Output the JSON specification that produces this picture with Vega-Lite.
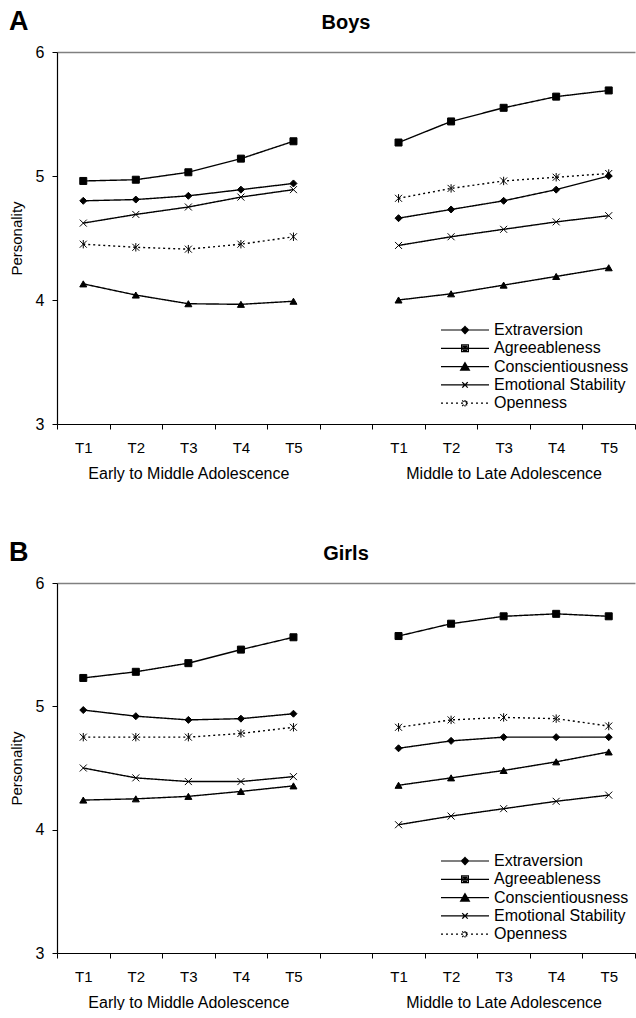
{
  "$schema": "https://vega.github.io/schema/vega-lite/v6.json",
  "background": "white",
  "padding": {"left": 9, "top": 8, "right": 0, "bottom": 0},
  "config": {
    "font": "Liberation Sans",
    "view": {"stroke": null},
    "axis": {"domainColor": "black", "tickColor": "black", "labelColor": "black", "titleColor": "black", "grid": false, "domainWidth": 1.2},
    "legend": {"title": null, "orient": "none", "legendX": 400, "legendY": 270, "padding": 0, "symbolStrokeColor": "black", "symbolStrokeWidth": 1.2, "labelFontSize": 16, "labelOffset": 21, "rowPadding": 2.3, "labelColor": "black", "symbolSize": 64}
  },
  "datasets": {
    "d": [
      {"panel":"Boys","cohort":"Early","trait":"Extraversion","slot":1,"value":4.80},
      {"panel":"Boys","cohort":"Early","trait":"Extraversion","slot":2,"value":4.81},
      {"panel":"Boys","cohort":"Early","trait":"Extraversion","slot":3,"value":4.84},
      {"panel":"Boys","cohort":"Early","trait":"Extraversion","slot":4,"value":4.89},
      {"panel":"Boys","cohort":"Early","trait":"Extraversion","slot":5,"value":4.94},
      {"panel":"Boys","cohort":"Early","trait":"Agreeableness","slot":1,"value":4.96},
      {"panel":"Boys","cohort":"Early","trait":"Agreeableness","slot":2,"value":4.97},
      {"panel":"Boys","cohort":"Early","trait":"Agreeableness","slot":3,"value":5.03},
      {"panel":"Boys","cohort":"Early","trait":"Agreeableness","slot":4,"value":5.14},
      {"panel":"Boys","cohort":"Early","trait":"Agreeableness","slot":5,"value":5.28},
      {"panel":"Boys","cohort":"Early","trait":"Conscientiousness","slot":1,"value":4.13},
      {"panel":"Boys","cohort":"Early","trait":"Conscientiousness","slot":2,"value":4.04},
      {"panel":"Boys","cohort":"Early","trait":"Conscientiousness","slot":3,"value":3.97},
      {"panel":"Boys","cohort":"Early","trait":"Conscientiousness","slot":4,"value":3.965},
      {"panel":"Boys","cohort":"Early","trait":"Conscientiousness","slot":5,"value":3.99},
      {"panel":"Boys","cohort":"Early","trait":"Emotional Stability","slot":1,"value":4.62},
      {"panel":"Boys","cohort":"Early","trait":"Emotional Stability","slot":2,"value":4.69},
      {"panel":"Boys","cohort":"Early","trait":"Emotional Stability","slot":3,"value":4.75},
      {"panel":"Boys","cohort":"Early","trait":"Emotional Stability","slot":4,"value":4.83},
      {"panel":"Boys","cohort":"Early","trait":"Emotional Stability","slot":5,"value":4.89},
      {"panel":"Boys","cohort":"Early","trait":"Openness","slot":1,"value":4.45},
      {"panel":"Boys","cohort":"Early","trait":"Openness","slot":2,"value":4.425},
      {"panel":"Boys","cohort":"Early","trait":"Openness","slot":3,"value":4.41},
      {"panel":"Boys","cohort":"Early","trait":"Openness","slot":4,"value":4.45},
      {"panel":"Boys","cohort":"Early","trait":"Openness","slot":5,"value":4.51},
      {"panel":"Boys","cohort":"Late","trait":"Extraversion","slot":7,"value":4.66},
      {"panel":"Boys","cohort":"Late","trait":"Extraversion","slot":8,"value":4.73},
      {"panel":"Boys","cohort":"Late","trait":"Extraversion","slot":9,"value":4.80},
      {"panel":"Boys","cohort":"Late","trait":"Extraversion","slot":10,"value":4.89},
      {"panel":"Boys","cohort":"Late","trait":"Extraversion","slot":11,"value":5.00},
      {"panel":"Boys","cohort":"Late","trait":"Agreeableness","slot":7,"value":5.27},
      {"panel":"Boys","cohort":"Late","trait":"Agreeableness","slot":8,"value":5.44},
      {"panel":"Boys","cohort":"Late","trait":"Agreeableness","slot":9,"value":5.55},
      {"panel":"Boys","cohort":"Late","trait":"Agreeableness","slot":10,"value":5.64},
      {"panel":"Boys","cohort":"Late","trait":"Agreeableness","slot":11,"value":5.69},
      {"panel":"Boys","cohort":"Late","trait":"Conscientiousness","slot":7,"value":4.00},
      {"panel":"Boys","cohort":"Late","trait":"Conscientiousness","slot":8,"value":4.05},
      {"panel":"Boys","cohort":"Late","trait":"Conscientiousness","slot":9,"value":4.12},
      {"panel":"Boys","cohort":"Late","trait":"Conscientiousness","slot":10,"value":4.19},
      {"panel":"Boys","cohort":"Late","trait":"Conscientiousness","slot":11,"value":4.26},
      {"panel":"Boys","cohort":"Late","trait":"Emotional Stability","slot":7,"value":4.44},
      {"panel":"Boys","cohort":"Late","trait":"Emotional Stability","slot":8,"value":4.51},
      {"panel":"Boys","cohort":"Late","trait":"Emotional Stability","slot":9,"value":4.57},
      {"panel":"Boys","cohort":"Late","trait":"Emotional Stability","slot":10,"value":4.63},
      {"panel":"Boys","cohort":"Late","trait":"Emotional Stability","slot":11,"value":4.68},
      {"panel":"Boys","cohort":"Late","trait":"Openness","slot":7,"value":4.82},
      {"panel":"Boys","cohort":"Late","trait":"Openness","slot":8,"value":4.90},
      {"panel":"Boys","cohort":"Late","trait":"Openness","slot":9,"value":4.96},
      {"panel":"Boys","cohort":"Late","trait":"Openness","slot":10,"value":4.99},
      {"panel":"Boys","cohort":"Late","trait":"Openness","slot":11,"value":5.02},
      {"panel":"Girls","cohort":"Early","trait":"Extraversion","slot":1,"value":4.97},
      {"panel":"Girls","cohort":"Early","trait":"Extraversion","slot":2,"value":4.92},
      {"panel":"Girls","cohort":"Early","trait":"Extraversion","slot":3,"value":4.89},
      {"panel":"Girls","cohort":"Early","trait":"Extraversion","slot":4,"value":4.90},
      {"panel":"Girls","cohort":"Early","trait":"Extraversion","slot":5,"value":4.94},
      {"panel":"Girls","cohort":"Early","trait":"Agreeableness","slot":1,"value":5.23},
      {"panel":"Girls","cohort":"Early","trait":"Agreeableness","slot":2,"value":5.28},
      {"panel":"Girls","cohort":"Early","trait":"Agreeableness","slot":3,"value":5.35},
      {"panel":"Girls","cohort":"Early","trait":"Agreeableness","slot":4,"value":5.46},
      {"panel":"Girls","cohort":"Early","trait":"Agreeableness","slot":5,"value":5.56},
      {"panel":"Girls","cohort":"Early","trait":"Conscientiousness","slot":1,"value":4.24},
      {"panel":"Girls","cohort":"Early","trait":"Conscientiousness","slot":2,"value":4.25},
      {"panel":"Girls","cohort":"Early","trait":"Conscientiousness","slot":3,"value":4.27},
      {"panel":"Girls","cohort":"Early","trait":"Conscientiousness","slot":4,"value":4.31},
      {"panel":"Girls","cohort":"Early","trait":"Conscientiousness","slot":5,"value":4.355},
      {"panel":"Girls","cohort":"Early","trait":"Emotional Stability","slot":1,"value":4.50},
      {"panel":"Girls","cohort":"Early","trait":"Emotional Stability","slot":2,"value":4.42},
      {"panel":"Girls","cohort":"Early","trait":"Emotional Stability","slot":3,"value":4.39},
      {"panel":"Girls","cohort":"Early","trait":"Emotional Stability","slot":4,"value":4.39},
      {"panel":"Girls","cohort":"Early","trait":"Emotional Stability","slot":5,"value":4.43},
      {"panel":"Girls","cohort":"Early","trait":"Openness","slot":1,"value":4.75},
      {"panel":"Girls","cohort":"Early","trait":"Openness","slot":2,"value":4.75},
      {"panel":"Girls","cohort":"Early","trait":"Openness","slot":3,"value":4.75},
      {"panel":"Girls","cohort":"Early","trait":"Openness","slot":4,"value":4.78},
      {"panel":"Girls","cohort":"Early","trait":"Openness","slot":5,"value":4.83},
      {"panel":"Girls","cohort":"Late","trait":"Extraversion","slot":7,"value":4.66},
      {"panel":"Girls","cohort":"Late","trait":"Extraversion","slot":8,"value":4.72},
      {"panel":"Girls","cohort":"Late","trait":"Extraversion","slot":9,"value":4.75},
      {"panel":"Girls","cohort":"Late","trait":"Extraversion","slot":10,"value":4.75},
      {"panel":"Girls","cohort":"Late","trait":"Extraversion","slot":11,"value":4.75},
      {"panel":"Girls","cohort":"Late","trait":"Agreeableness","slot":7,"value":5.57},
      {"panel":"Girls","cohort":"Late","trait":"Agreeableness","slot":8,"value":5.67},
      {"panel":"Girls","cohort":"Late","trait":"Agreeableness","slot":9,"value":5.73},
      {"panel":"Girls","cohort":"Late","trait":"Agreeableness","slot":10,"value":5.75},
      {"panel":"Girls","cohort":"Late","trait":"Agreeableness","slot":11,"value":5.73},
      {"panel":"Girls","cohort":"Late","trait":"Conscientiousness","slot":7,"value":4.36},
      {"panel":"Girls","cohort":"Late","trait":"Conscientiousness","slot":8,"value":4.42},
      {"panel":"Girls","cohort":"Late","trait":"Conscientiousness","slot":9,"value":4.48},
      {"panel":"Girls","cohort":"Late","trait":"Conscientiousness","slot":10,"value":4.55},
      {"panel":"Girls","cohort":"Late","trait":"Conscientiousness","slot":11,"value":4.63},
      {"panel":"Girls","cohort":"Late","trait":"Emotional Stability","slot":7,"value":4.04},
      {"panel":"Girls","cohort":"Late","trait":"Emotional Stability","slot":8,"value":4.11},
      {"panel":"Girls","cohort":"Late","trait":"Emotional Stability","slot":9,"value":4.17},
      {"panel":"Girls","cohort":"Late","trait":"Emotional Stability","slot":10,"value":4.23},
      {"panel":"Girls","cohort":"Late","trait":"Emotional Stability","slot":11,"value":4.28},
      {"panel":"Girls","cohort":"Late","trait":"Openness","slot":7,"value":4.83},
      {"panel":"Girls","cohort":"Late","trait":"Openness","slot":8,"value":4.89},
      {"panel":"Girls","cohort":"Late","trait":"Openness","slot":9,"value":4.91},
      {"panel":"Girls","cohort":"Late","trait":"Openness","slot":10,"value":4.90},
      {"panel":"Girls","cohort":"Late","trait":"Openness","slot":11,"value":4.84}
    ]
  },
  "spacing": 58,
  "resolve": {"scale": {"shape": "independent", "strokeDash": "independent"}, "legend": {"shape": "independent", "strokeDash": "independent"}},
  "vconcat": [
    {
      "title": {"text": "A", "anchor": "start", "frame": "bounds", "fontSize": 27, "fontWeight": "bold", "offset": -23, "color": "black"},
      "resolve": {"scale": {"shape": "independent", "strokeDash": "independent"}, "legend": {"shape": "independent", "strokeDash": "independent"}},
      "vconcat": [
        {
          "width": 578,
          "height": 372,
          "title": {"text": "Boys", "anchor": "middle", "frame": "group", "fontSize": 20, "fontWeight": "bold", "offset": 11, "color": "black"},
          "data": {"name": "d"},
          "transform": [{"filter": "datum.panel === 'Boys'"}],
          "resolve": {"axis": {"x": "independent"}, "scale": {"shape": "independent"}, "legend": {"shape": "independent", "strokeDash": "independent"}},
          "encoding": {
            "y": {"field": "value", "type": "quantitative",
              "scale": {"domain": [3, 6], "nice": false, "zero": false},
              "axis": {"values": [3, 4, 5, 6], "title": "Personality", "titleFontSize": 15, "titleFontWeight": "normal", "titlePadding": 11, "labelFontSize": 16, "labelPadding": 8, "tickSize": 5, "grid": true, "gridColor": "#808080", "gridWidth": 1.5, "gridOpacity": {"condition": {"test": "datum.value === 6", "value": 1}, "value": 0}}}
          },
          "layer": [
            {
              "mark": {"type": "line", "color": "black", "strokeWidth": 1.4},
              "encoding": {
                "x": {"field": "slot", "type": "quantitative",
                  "scale": {"domain": [0.5, 11.5], "nice": false, "zero": false},
                  "axis": {"orient": "bottom", "values": [0.5, 1, 1.5, 2, 2.5, 3, 3.5, 4, 4.5, 5, 5.5, 6.5, 7, 7.5, 8, 8.5, 9, 9.5, 10, 10.5, 11, 11.5], "title": null, "tickSize": 5, "tickOpacity": {"condition": {"test": "datum.value % 1 !== 0", "value": 1}, "value": 0}, "labelExpr": "datum.value % 1 === 0 ? 'T' + (datum.value < 6 ? datum.value : datum.value - 6) : ''", "labelFontSize": 15, "labelPadding": 11, "labelOverlap": false, "labelFlush": false}},
                "detail": {"field": "cohort"},
                "strokeDash": {"field": "trait", "type": "nominal",
                  "scale": {"domain": ["Extraversion", "Agreeableness", "Conscientiousness", "Emotional Stability", "Openness"], "range": [[1, 0], [1, 0], [1, 0], [1, 0], [2, 3]]},
                  "legend": null}
              }
            },
            {
              "mark": {"type": "point", "filled": true, "color": "black", "stroke": "black", "strokeWidth": 1, "size": 49, "opacity": 1},
              "encoding": {
                "x": {"field": "slot", "type": "quantitative",
                  "scale": {"domain": [0.5, 11.5], "nice": false, "zero": false},
                  "axis": {"orient": "bottom", "values": [3, 9], "title": null, "ticks": false, "domain": false, "labelExpr": "datum.value === 3 ? 'Early to Middle Adolescence' : 'Middle to Late Adolescence'", "labelFontSize": 16, "labelPadding": 41, "labelLimit": 400, "labelOverlap": false, "labelFlush": false}},
                "shape": {"field": "trait", "type": "nominal",
                  "scale": {"domain": ["Extraversion", "Agreeableness", "Conscientiousness", "Emotional Stability", "Openness"], "range": ["diamond", "square", "triangle-up", "M-1,-1L1,1M-1,1L1,-1", "M-1,-1L1,1M-1,1L1,-1M0,-1.2V1.2"]},
                  "legend": null}
              }
            },
            {
              "transform": [{"filter": "false"}],
              "mark": {"type": "point", "filled": false, "color": "black", "strokeWidth": 1.2, "size": 64, "opacity": 1},
              "encoding": {
                "x": {"field": "slot", "type": "quantitative", "scale": {"domain": [0.5, 11.5], "nice": false, "zero": false}, "axis": null},
                "shape": {"field": "trait", "type": "nominal",
                  "scale": {"domain": ["Extraversion", "Agreeableness", "Conscientiousness", "Emotional Stability", "Openness"], "range": ["M-6,0H6M0,-0.9L0.9,0L0,0.9L-0.9,0ZM0,-0.55L0.55,0L0,0.55L-0.55,0ZM0,-0.2L0.2,0L0,0.2L-0.2,0Z", "M-6,0H6M-0.85,-0.85H0.85V0.85H-0.85ZM-0.5,-0.5H0.5V0.5H-0.5ZM-0.15,-0.15H0.15V0.15H-0.15Z", "M-6,0H6M0,-1L1.1,0.9H-1.1ZM0,-0.45L0.6,0.55H-0.6ZM0,0.05L0.15,0.3H-0.15Z", "M-6,0H6M-0.7,-0.7L0.7,0.7M-0.7,0.7L0.7,-0.7", "M-6,0H6M-0.7,-0.7L0.7,0.7M-0.7,0.7L0.7,-0.7M0,-0.8V0.8"]},
                  "legend": {}},
                "strokeDash": {"field": "trait", "type": "nominal",
                  "scale": {"domain": ["Extraversion", "Agreeableness", "Conscientiousness", "Emotional Stability", "Openness"], "range": [[1, 0], [1, 0], [1, 0], [1, 0], [2, 3]]},
                  "legend": {}}
              }
            }
          ]
        }
      ]
    },
    {
      "title": {"text": "B", "anchor": "start", "frame": "bounds", "fontSize": 27, "fontWeight": "bold", "offset": -23, "color": "black"},
      "resolve": {"scale": {"shape": "independent", "strokeDash": "independent"}, "legend": {"shape": "independent", "strokeDash": "independent"}},
      "vconcat": [
        {
          "width": 578,
          "height": 370,
          "title": {"text": "Girls", "anchor": "middle", "frame": "group", "fontSize": 20, "fontWeight": "bold", "offset": 11, "color": "black"},
          "data": {"name": "d"},
          "transform": [{"filter": "datum.panel === 'Girls'"}],
          "resolve": {"axis": {"x": "independent"}, "scale": {"shape": "independent"}, "legend": {"shape": "independent", "strokeDash": "independent"}},
          "encoding": {
            "y": {"field": "value", "type": "quantitative",
              "scale": {"domain": [3, 6], "nice": false, "zero": false},
              "axis": {"values": [3, 4, 5, 6], "title": "Personality", "titleFontSize": 15, "titleFontWeight": "normal", "titlePadding": 11, "labelFontSize": 16, "labelPadding": 8, "tickSize": 5, "grid": true, "gridColor": "#808080", "gridWidth": 1.5, "gridOpacity": {"condition": {"test": "datum.value === 6", "value": 1}, "value": 0}}}
          },
          "layer": [
            {
              "mark": {"type": "line", "color": "black", "strokeWidth": 1.4},
              "encoding": {
                "x": {"field": "slot", "type": "quantitative",
                  "scale": {"domain": [0.5, 11.5], "nice": false, "zero": false},
                  "axis": {"orient": "bottom", "values": [0.5, 1, 1.5, 2, 2.5, 3, 3.5, 4, 4.5, 5, 5.5, 6.5, 7, 7.5, 8, 8.5, 9, 9.5, 10, 10.5, 11, 11.5], "title": null, "tickSize": 5, "tickOpacity": {"condition": {"test": "datum.value % 1 !== 0", "value": 1}, "value": 0}, "labelExpr": "datum.value % 1 === 0 ? 'T' + (datum.value < 6 ? datum.value : datum.value - 6) : ''", "labelFontSize": 15, "labelPadding": 11, "labelOverlap": false, "labelFlush": false}},
                "detail": {"field": "cohort"},
                "strokeDash": {"field": "trait", "type": "nominal",
                  "scale": {"domain": ["Extraversion", "Agreeableness", "Conscientiousness", "Emotional Stability", "Openness"], "range": [[1, 0], [1, 0], [1, 0], [1, 0], [2, 3]]},
                  "legend": null}
              }
            },
            {
              "mark": {"type": "point", "filled": true, "color": "black", "stroke": "black", "strokeWidth": 1, "size": 49, "opacity": 1},
              "encoding": {
                "x": {"field": "slot", "type": "quantitative",
                  "scale": {"domain": [0.5, 11.5], "nice": false, "zero": false},
                  "axis": {"orient": "bottom", "values": [3, 9], "title": null, "ticks": false, "domain": false, "labelExpr": "datum.value === 3 ? 'Early to Middle Adolescence' : 'Middle to Late Adolescence'", "labelFontSize": 16, "labelPadding": 41, "labelLimit": 400, "labelOverlap": false, "labelFlush": false}},
                "shape": {"field": "trait", "type": "nominal",
                  "scale": {"domain": ["Extraversion", "Agreeableness", "Conscientiousness", "Emotional Stability", "Openness"], "range": ["diamond", "square", "triangle-up", "M-1,-1L1,1M-1,1L1,-1", "M-1,-1L1,1M-1,1L1,-1M0,-1.2V1.2"]},
                  "legend": null}
              }
            },
            {
              "transform": [{"filter": "false"}],
              "mark": {"type": "point", "filled": false, "color": "black", "strokeWidth": 1.2, "size": 64, "opacity": 1},
              "encoding": {
                "x": {"field": "slot", "type": "quantitative", "scale": {"domain": [0.5, 11.5], "nice": false, "zero": false}, "axis": null},
                "shape": {"field": "trait", "type": "nominal",
                  "scale": {"domain": ["Extraversion", "Agreeableness", "Conscientiousness", "Emotional Stability", "Openness"], "range": ["M-6,0H6M0,-0.9L0.9,0L0,0.9L-0.9,0ZM0,-0.55L0.55,0L0,0.55L-0.55,0ZM0,-0.2L0.2,0L0,0.2L-0.2,0Z", "M-6,0H6M-0.85,-0.85H0.85V0.85H-0.85ZM-0.5,-0.5H0.5V0.5H-0.5ZM-0.15,-0.15H0.15V0.15H-0.15Z", "M-6,0H6M0,-1L1.1,0.9H-1.1ZM0,-0.45L0.6,0.55H-0.6ZM0,0.05L0.15,0.3H-0.15Z", "M-6,0H6M-0.7,-0.7L0.7,0.7M-0.7,0.7L0.7,-0.7", "M-6,0H6M-0.7,-0.7L0.7,0.7M-0.7,0.7L0.7,-0.7M0,-0.8V0.8"]},
                  "legend": {}},
                "strokeDash": {"field": "trait", "type": "nominal",
                  "scale": {"domain": ["Extraversion", "Agreeableness", "Conscientiousness", "Emotional Stability", "Openness"], "range": [[1, 0], [1, 0], [1, 0], [1, 0], [2, 3]]},
                  "legend": {}}
              }
            }
          ]
        }
      ]
    }
  ]
}
